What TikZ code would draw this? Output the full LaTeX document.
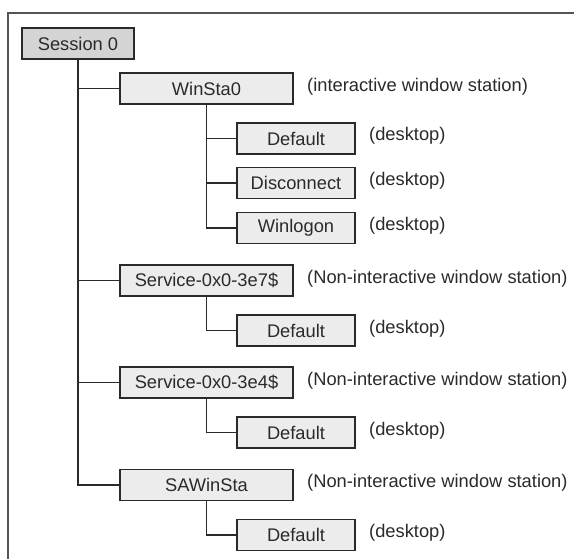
\documentclass[tikz,border=0pt]{standalone}
\usepackage{fontspec}
\setmainfont{Liberation Sans}
\definecolor{frame}{HTML}{555555}
\definecolor{ink}{HTML}{2A2A2A}
\definecolor{rootfill}{HTML}{D4D4D4}
\definecolor{boxfill}{HTML}{ECECEC}
\begin{document}
\begin{tikzpicture}[x=1pt,y=-1pt,
  font=\fontsize{18.3}{21}\selectfont,
  every node/.style={text=ink},
  rootbox/.style={draw=ink,line width=1.1pt,fill=rootfill,minimum width=112pt,minimum height=31pt,inner sep=0pt},
  stationbox/.style={draw=ink,line width=1.1pt,fill=boxfill,minimum width=173pt,minimum height=31pt,inner sep=0pt},
  deskbox/.style={draw=ink,line width=1.1pt,fill=boxfill,minimum width=118pt,minimum height=31pt,inner sep=0pt},
  note/.style={anchor=west,inner sep=0pt},
  link/.style={draw=ink,line width=1.1pt}]
\useasboundingbox (0,0) rectangle (574,559);
\draw[frame,line width=1.8pt] (576,13) -- (8,13) -- (8,561);

\node[rootbox] (s0) at (78,43.5) {Session 0};

\node[stationbox] (w0) at (206.5,88.5) {WinSta0};
\node[deskbox] (d1) at (296,138.5) {Default};
\node[deskbox] (d2) at (296,183) {Disconnect};
\node[deskbox] (d3) at (296,228) {Winlogon};

\node[stationbox] (sv1) at (206.5,280.5) {Service-0x0-3e7\$};
\node[deskbox] (d4) at (296,330.5) {Default};

\node[stationbox] (sv2) at (206.5,382.5) {Service-0x0-3e4\$};
\node[deskbox] (d5) at (296,432.5) {Default};

\node[stationbox] (sa) at (206.5,485) {SAWinSta};
\node[deskbox] (d6) at (296,535) {Default};

\node[note] (n0) at (307,87) {(interactive window station)};
\node[note] (n1) at (307,279) {(Non-interactive window station)};
\node[note] (n2) at (307,381) {(Non-interactive window station)};
\node[note] (n3) at (307,483) {(Non-interactive window station)};
\node[note] (k1) at (369,136) {(desktop)};
\node[note] (k2) at (369,181) {(desktop)};
\node[note] (k3) at (369,226) {(desktop)};
\node[note] (k4) at (369,328.5) {(desktop)};
\node[note] (k5) at (369,430.5) {(desktop)};
\node[note] (k6) at (369,533) {(desktop)};

\draw[link] (s0.south) |- (w0.west);
\draw[link] (s0.south) |- (sv1.west);
\draw[link] (s0.south) |- (sv2.west);
\draw[link] (s0.south) |- (sa.west);

\draw[link] (w0.south) |- (d1.west);
\draw[link] (w0.south) |- (d2.west);
\draw[link] (w0.south) |- (d3.west);
\draw[link] (sv1.south) |- (d4.west);
\draw[link] (sv2.south) |- (d5.west);
\draw[link] (sa.south) |- (d6.west);
\end{tikzpicture}
\end{document}
